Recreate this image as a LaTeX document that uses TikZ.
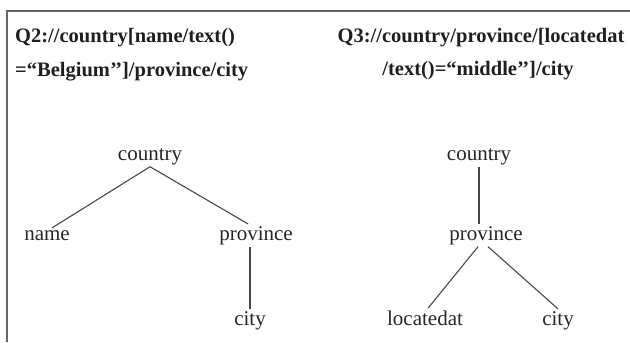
\documentclass[tikz,border=0pt]{standalone}
\usepackage{fontspec}
\setmainfont{Liberation Serif}
\begin{document}
\begin{tikzpicture}[x=1bp,y=-1bp,
  head/.style={font=\bfseries\fontsize{20.5bp}{24bp}\selectfont, text=black!88, inner sep=0pt, anchor=base west},
  headc/.style={head, anchor=base},
  tn/.style={font=\fontsize{21bp}{24bp}\selectfont, text=black!85, inner sep=2bp, anchor=base},
  edge/.style={draw=black!72, line width=1.1bp},
  frame/.style={draw=black!60, line width=2bp}]
\useasboundingbox (0,0) rectangle (630,342);
\draw[frame] (7,342) -- (7,11) -- (630,11);
% headings
\node[head] (q2a) at (15,42) {Q2://country[name/text()};
\node[head] (q2b) at (15,76) {=“Belgium’’]/province/city};
\node[headc] (q3a) at (481,42) {Q3://country/province/[locatedat};
\node[headc] (q3b) at (478,75) {/text()=“middle’’]/city};
% left tree
\node[tn] (c1) at (150,160) {country};
\node[tn] (n1) at (47,240) {name};
\node[tn] (p1) at (256,240) {province};
\node[tn] (t1) at (250,325) {city};
\draw[edge] (c1.south) -- ([xshift=5]n1.north);
\draw[edge] (c1.south) -- ([xshift=-8]p1.north);
\draw[edge] (t1.north) -- (t1.north |- p1.south);
% right tree
\node[tn] (c2) at (479,160) {country};
\node[tn] (p2) at (486,240) {province};
\node[tn] (l2) at (425,325) {locatedat};
\node[tn] (t2) at (558,325) {city};
\draw[edge] (c2.south) -- (c2.south |- p2.north);
\draw[edge] ([xshift=-8]p2.south) -- ([xshift=3]l2.north);
\draw[edge] ([xshift=2]p2.south) -- (t2.north);
\end{tikzpicture}
\end{document}
